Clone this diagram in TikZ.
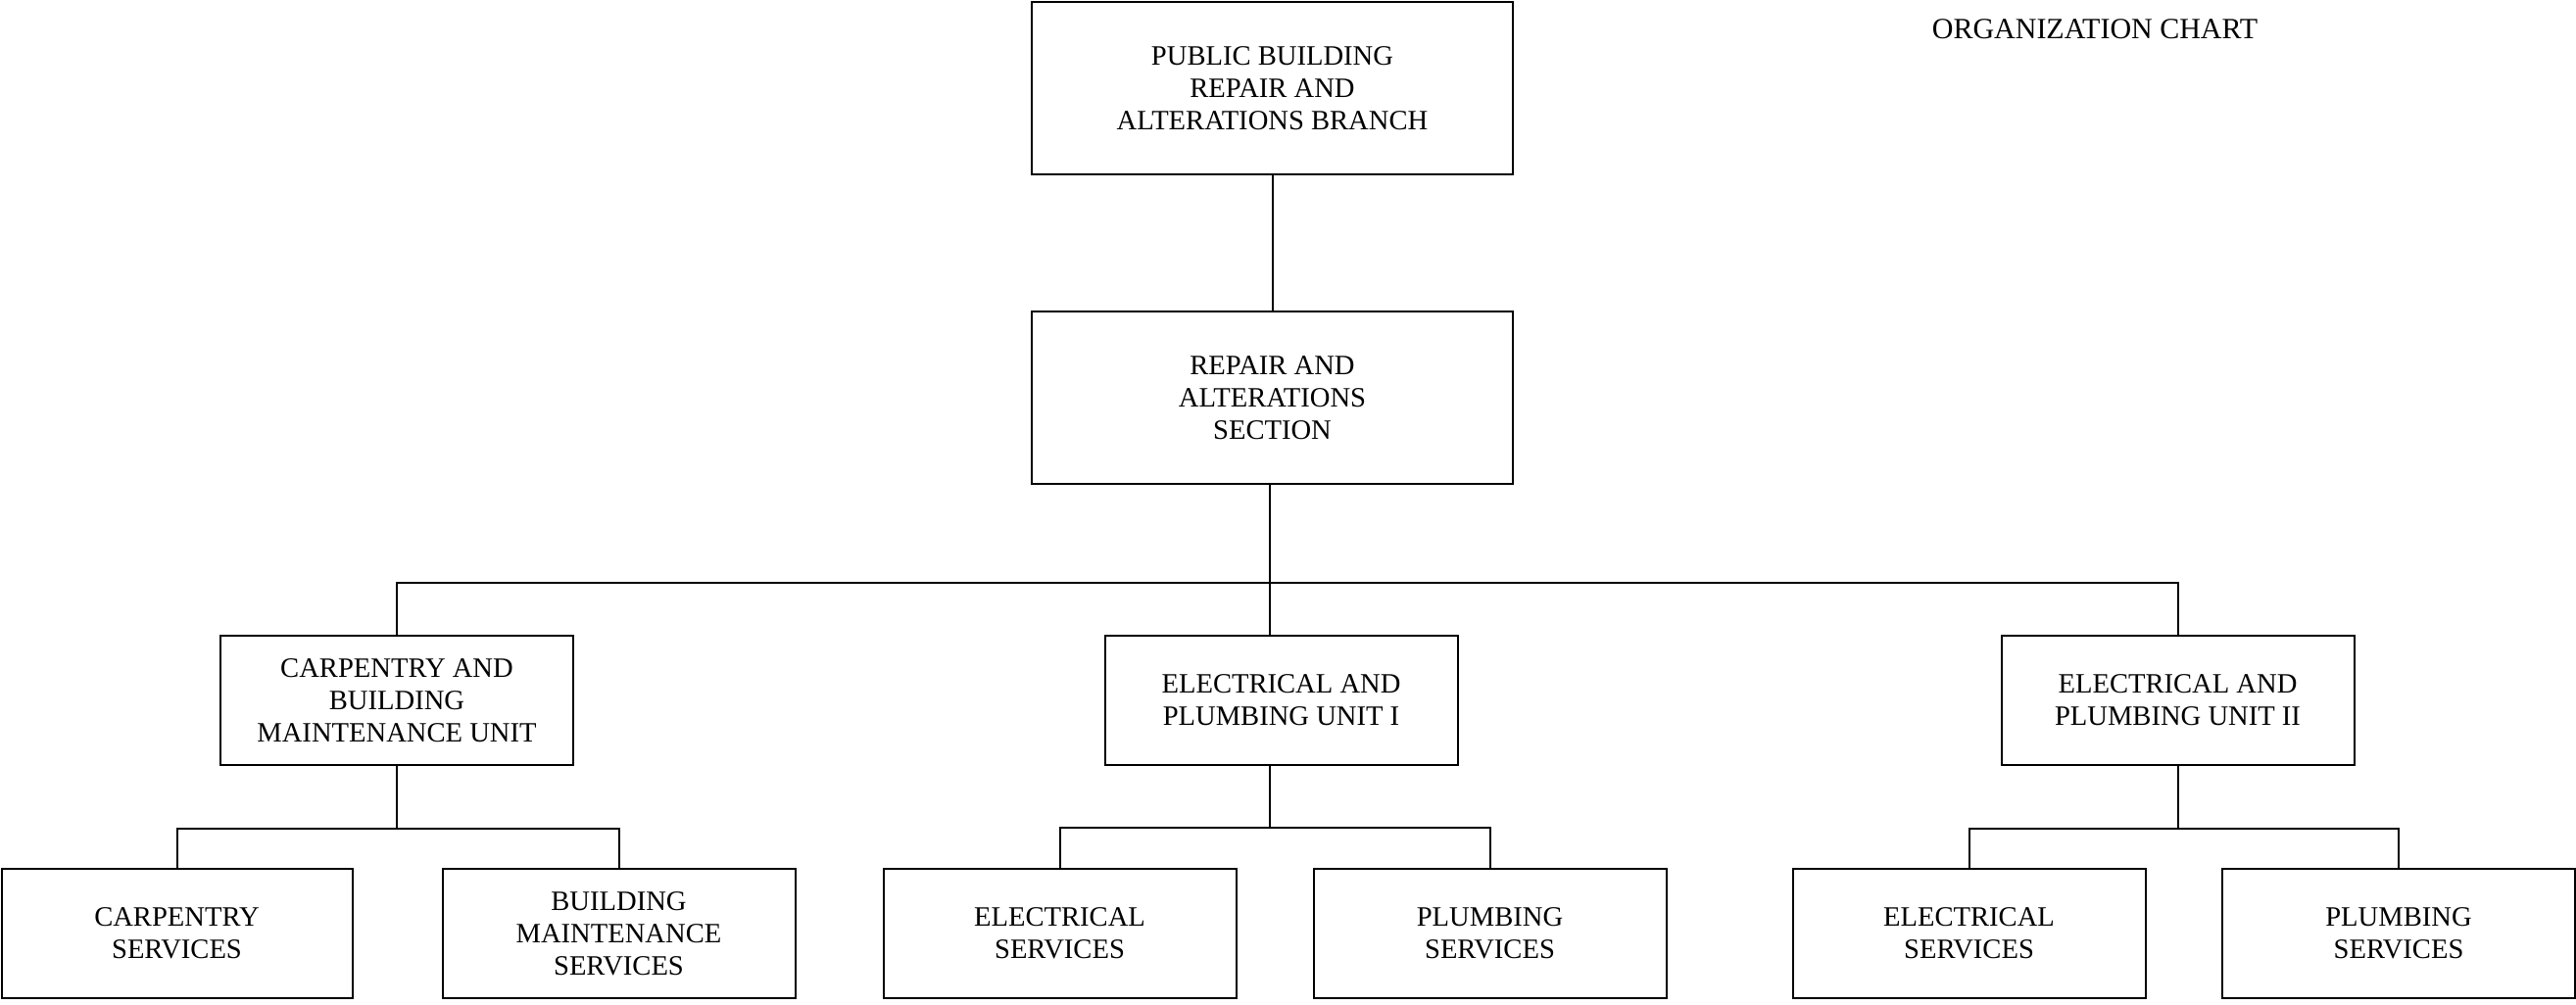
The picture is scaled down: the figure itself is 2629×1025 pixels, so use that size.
\documentclass[tikz,border=0pt]{standalone}
\usepackage{fontspec}
\setmainfont{Liberation Serif}
\begin{document}
\begin{tikzpicture}[x=0.5pt,y=-0.5pt,
  box/.style={draw, line width=1pt, inner sep=0pt, align=center,
    font=\fontsize{14.3}{16.6}\selectfont},
  bigbox/.style={box, minimum width=245.5pt, minimum height=88pt},
  unitbox/.style={box, minimum width=180pt, minimum height=66pt},
  conn/.style={line width=1pt}]
\useasboundingbox (0,0) rectangle (2629,1025);
\node[bigbox] (top) at (1298.5,90) {PUBLIC BUILDING\\REPAIR AND\\ALTERATIONS BRANCH};
\node[bigbox] (sec) at (1298.5,406) {REPAIR AND\\ALTERATIONS\\SECTION};
\node[font=\fontsize{15}{18}\selectfont] (title) at (2138,30) {ORGANIZATION CHART};
\node[unitbox] (cbm) at (405,715) {CARPENTRY AND\\BUILDING\\MAINTENANCE UNIT};
\node[unitbox] (ep1) at (1307.5,715) {ELECTRICAL AND\\PLUMBING UNIT I};
\node[unitbox] (ep2) at (2222.5,715) {ELECTRICAL AND\\PLUMBING UNIT II};
\node[unitbox, minimum width=179pt] (cs) at (180.5,953) {CARPENTRY\\SERVICES};
\node[unitbox] (bms) at (631.5,953) {BUILDING\\MAINTENANCE\\SERVICES};
\node[unitbox] (es1) at (1081.5,953) {ELECTRICAL\\SERVICES};
\node[unitbox] (ps1) at (1520.5,953) {PLUMBING\\SERVICES};
\node[unitbox] (es2) at (2009.5,953) {ELECTRICAL\\SERVICES};
\node[unitbox] (ps2) at (2448,953) {PLUMBING\\SERVICES};
\coordinate (bus) at (1296,595);
\coordinate (sub1) at (1296,845);
\draw[conn] (top.south) -- (sec.south |- top.south) -- (sec.north);
\draw[conn] (1296,495) -- (ep1.north -| bus);
\draw[conn] (cbm.north) |- (bus) -| (ep2.north);
\draw[conn] (cbm.south) -- ++(0,64) coordinate (subc);
\draw[conn] (cs.north) |- (subc) -| (bms.north);
\draw[conn] (ep1.south -| sub1) -- (sub1);
\draw[conn] (es1.north) |- (sub1) -| (ps1.north);
\draw[conn] (ep2.south) -- ++(0,64) coordinate (sub2);
\draw[conn] (es2.north) |- (sub2) -| (ps2.north);
\end{tikzpicture}
\end{document}
